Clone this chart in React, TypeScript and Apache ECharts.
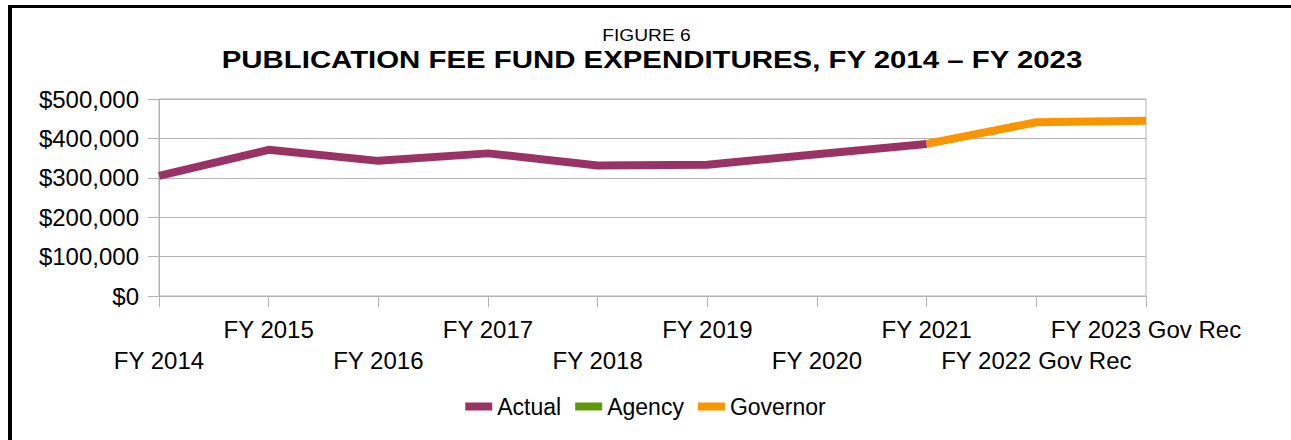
import React, { useEffect, useRef } from "react";
import * as echarts from "echarts";

const categories = [
  "FY 2014",
  "FY 2015",
  "FY 2016",
  "FY 2017",
  "FY 2018",
  "FY 2019",
  "FY 2020",
  "FY 2021",
  "FY 2022 Gov Rec",
  "FY 2023 Gov Rec",
];
const actualValues = [305000, 371000, 343000, 362000, 331000, 333000, 360000, 386000, null, null];
const agencyValues = [null, null, null, null, null, null, null, null, null, null];
const governorValues = [null, null, null, null, null, null, null, 386000, 441000, 445000];
const seriesNames = ["Actual", "Agency", "Governor"];
const titleTop = "FIGURE 6";
const titleMain = "PUBLICATION FEE FUND EXPENDITURES, FY 2014 \u2013 FY 2023";

const FONT = "'Liberation Sans', Arial, sans-serif";

export default function App() {
  const ref = useRef<HTMLDivElement>(null);
  useEffect(() => {
    document.body.style.margin = "0";
    if (!ref.current) return;
    const chart = echarts.init(ref.current, null, { renderer: "svg" });
    chart.setOption({
      animation: false,
      backgroundColor: "#ffffff",
      textStyle: { fontFamily: FONT },
      graphic: [
        { type: "rect", shape: { x: 8, y: 5, width: 1300, height: 3 }, style: { fill: "#000" } },
        { type: "rect", shape: { x: 8, y: 5, width: 4, height: 440 }, style: { fill: "#000" } },
        {
          type: "text",
          x: 646.5,
          y: 35,
          scaleX: 1.13,
          style: {
            text: titleTop,
            textAlign: "center",
            textVerticalAlign: "middle",
            font: "normal 17px " + FONT,
            fill: "#000",
          },
        },
        {
          type: "text",
          x: 652,
          y: 60,
          scaleX: 1.2,
          style: {
            text: titleMain,
            textAlign: "center",
            textVerticalAlign: "middle",
            font: "bold 24.5px " + FONT,
            fill: "#000",
          },
        },
      ],
      legend: {
        data: seriesNames,
        left: "center",
        top: 390,
        icon: "rect",
        itemWidth: 27,
        itemHeight: 8,
        itemGap: 14,
        textStyle: { fontFamily: FONT, fontSize: 23, color: "#000" },
      },
      grid: {
        left: 159,
        right: 145,
        top: 99,
        bottom: 144,
        show: true,
        borderColor: "#b3b3b3",
        borderWidth: 1,
      },
      xAxis: {
        type: "category",
        data: categories,
        boundaryGap: false,
        axisLine: { show: true, lineStyle: { color: "#b3b3b3", width: 1 } },
        axisTick: { show: true, length: 11, interval: 0, lineStyle: { color: "#b3b3b3" } },
        axisLabel: {
          interval: 0,
          margin: 18,
          fontFamily: FONT,
          fontSize: 24,
          color: "#000",
          lineHeight: 31,
          verticalAlign: "top",
          formatter: (v: string, i: number) => (i % 2 === 0 ? "\n" + v : v),
        },
        splitLine: { show: false },
      },
      yAxis: {
        type: "value",
        min: 0,
        max: 500000,
        interval: 100000,
        axisLine: { show: true, lineStyle: { color: "#b3b3b3", width: 1 } },
        axisTick: { show: true, length: 11, lineStyle: { color: "#b3b3b3" } },
        axisLabel: {
          margin: 20,
          fontFamily: FONT,
          fontSize: 24,
          color: "#000",
          formatter: (v: number) => "$" + v.toLocaleString("en-US"),
        },
        splitLine: { show: true, lineStyle: { color: "#b3b3b3", width: 1 } },
      },
      series: [
        {
          name: seriesNames[0],
          type: "line",
          data: actualValues,
          symbol: "none",
          connectNulls: false,
          color: "#993366",
          lineStyle: { width: 8, color: "#993366" },
        },
        {
          name: seriesNames[1],
          type: "line",
          data: agencyValues,
          symbol: "none",
          color: "#5f9a0a",
          lineStyle: { width: 8, color: "#5f9a0a" },
        },
        {
          name: seriesNames[2],
          type: "line",
          data: governorValues,
          symbol: "none",
          color: "#f89500",
          lineStyle: { width: 8, color: "#f89500" },
        },
      ],
    });
    return () => chart.dispose();
  }, []);
  return <div ref={ref} style={{ width: 1291, height: 440 }} />;
}
